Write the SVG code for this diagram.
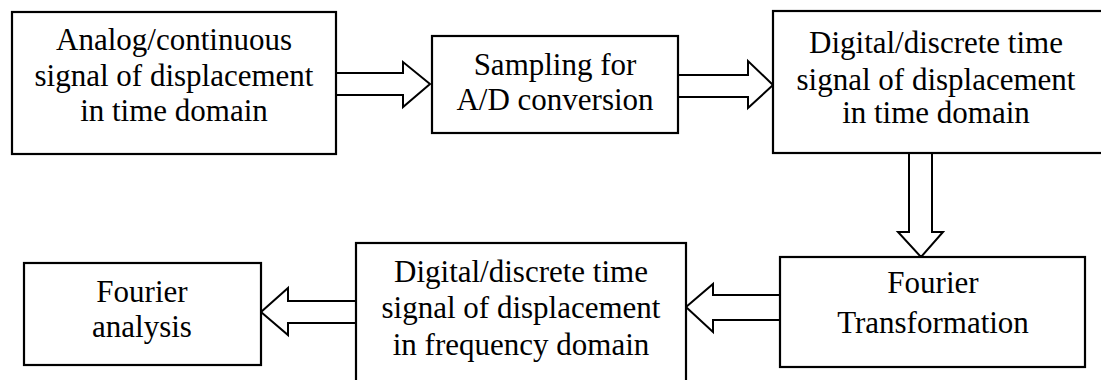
<svg xmlns="http://www.w3.org/2000/svg" width="1101" height="380" viewBox="0 0 1101 380">
  <style>
    .box { fill: #fff; stroke: #000; stroke-width: 2.2; }
    .arrow { fill: #fff; stroke: #000; stroke-width: 2; stroke-linejoin: miter; }
    text { font-family: "Liberation Serif", "Times New Roman", serif; font-size: 31px; fill: #000; text-anchor: middle; }
  </style>
  <rect width="1101" height="380" fill="#fff"/>

  <!-- block-arrow connectors -->
  <g id="connectors">
    <polygon class="arrow" points="336,73 403,73 403,62 430,84 403,107 403,95 336,95"/>
    <polygon class="arrow" points="678,75 748,75 748,61 773,85 748,108 748,97 678,97"/>
    <polygon class="arrow" points="909,153 909,232 898,232 921,257 943,232 932,232 932,153"/>
    <polygon class="arrow" points="780,295 713,295 713,284 686,307 713,332 713,320 780,320"/>
    <polygon class="arrow" points="356,301 288,301 288,288 261,312 288,335 288,323 356,323"/>
  </g>

  <g id="analog-signal">
    <rect class="box" x="12" y="12" width="324" height="142"/>
    <text x="174" y="50">Analog/continuous</text>
    <text x="174" y="86">signal of displacement</text>
    <text x="174" y="121">in time domain</text>
  </g>

  <g id="sampling">
    <rect class="box" x="432" y="36" width="246" height="97"/>
    <text x="555" y="75">Sampling for</text>
    <text x="555" y="110">A/D conversion</text>
  </g>

  <g id="digital-time">
    <rect class="box" x="773" y="11" width="340" height="142"/>
    <text x="936" y="53">Digital/discrete time</text>
    <text x="936" y="90">signal of displacement</text>
    <text x="936" y="123">in time domain</text>
  </g>

  <g id="fourier-transformation">
    <rect class="box" x="780" y="257" width="305" height="110"/>
    <text x="933" y="293">Fourier</text>
    <text x="933" y="333">Transformation</text>
  </g>

  <g id="digital-frequency">
    <rect class="box" x="356" y="243" width="330" height="150"/>
    <text x="521" y="282">Digital/discrete time</text>
    <text x="521" y="318">signal of displacement</text>
    <text x="521" y="355">in frequency domain</text>
  </g>

  <g id="fourier-analysis">
    <rect class="box" x="24" y="263" width="237" height="102"/>
    <text x="142" y="302">Fourier</text>
    <text x="142" y="337">analysis</text>
  </g>
</svg>
